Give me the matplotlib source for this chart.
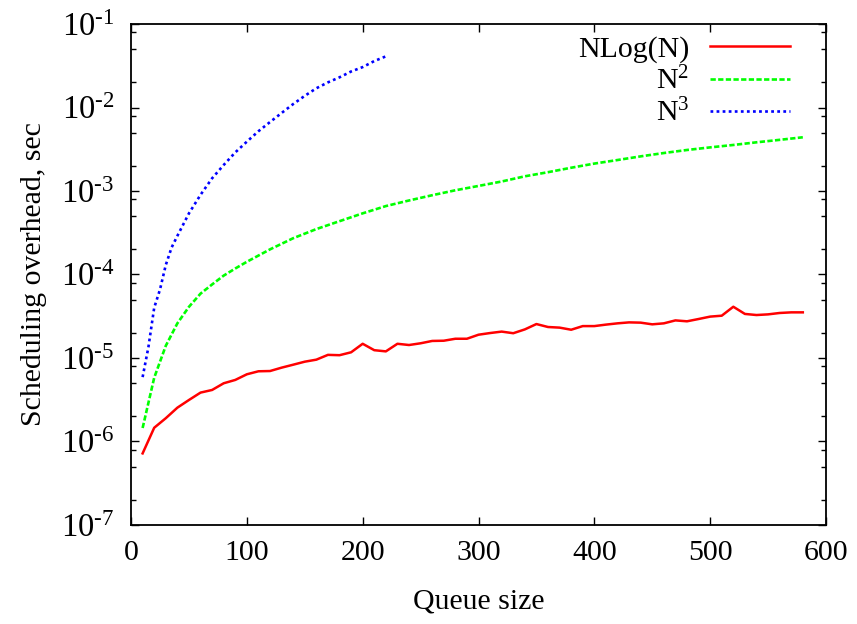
import matplotlib
matplotlib.use("Agg")
import matplotlib.pyplot as plt
from matplotlib.ticker import LogLocator, FixedLocator, FuncFormatter, NullFormatter
import numpy as np

plt.rcParams['font.family'] = ['Liberation Serif', 'DejaVu Serif']
plt.rcParams['mathtext.fontset'] = 'custom'
plt.rcParams['mathtext.rm'] = 'Liberation Serif'
plt.rcParams['mathtext.it'] = 'Liberation Serif:italic'
plt.rcParams['mathtext.bf'] = 'Liberation Serif:bold'

# ---- data ----
nlogn_x = [10, 20, 30, 40, 50, 60, 70, 80, 90, 100, 110, 120, 130, 140, 150, 160, 170, 180, 190,
           200, 210, 220, 230, 240, 250, 260, 270, 280, 290, 300, 310, 320, 330, 340, 350, 360,
           370, 380, 390, 400, 410, 420, 430, 440, 450, 460, 470, 480, 490, 500, 510, 520, 530,
           540, 550, 560, 570, 580]
nlogn_y = [7.2e-7, 1.46e-6, 1.9e-6, 2.54e-6, 3.14e-6, 3.85e-6, 4.14e-6, 4.98e-6, 5.46e-6, 6.38e-6,
           6.93e-6, 6.98e-6, 7.66e-6, 8.31e-6, 9.03e-6, 9.55e-6, 1.09e-5, 1.08e-5, 1.17e-5,
           1.48e-5, 1.24e-5, 1.20e-5, 1.48e-5, 1.43e-5, 1.50e-5, 1.60e-5, 1.61e-5, 1.70e-5,
           1.70e-5, 1.90e-5, 1.99e-5, 2.07e-5, 1.98e-5, 2.20e-5, 2.55e-5, 2.35e-5, 2.31e-5,
           2.18e-5, 2.41e-5, 2.41e-5, 2.51e-5, 2.60e-5, 2.67e-5, 2.65e-5, 2.53e-5, 2.60e-5,
           2.82e-5, 2.75e-5, 2.93e-5, 3.13e-5, 3.21e-5, 4.11e-5, 3.37e-5, 3.27e-5, 3.33e-5,
           3.46e-5, 3.52e-5, 3.52e-5]

n2_x = [10, 20, 30, 40, 50, 60, 70, 80, 90, 100, 120, 140, 160, 180, 200, 220, 240, 260, 280,
        300, 320, 340, 360, 380, 400, 420, 440, 460, 480, 500, 520, 540, 560, 580]
n2_y = [1.45e-6, 5.8e-6, 1.4e-5, 2.6e-5, 4.1e-5, 5.9e-5, 7.6e-5, 9.7e-5, 1.18e-4, 1.42e-4,
        2.0e-4, 2.72e-4, 3.5e-4, 4.35e-4, 5.4e-4, 6.6e-4, 7.7e-4, 8.9e-4, 1.02e-3,
        1.15e-3, 1.3e-3, 1.5e-3, 1.68e-3, 1.9e-3, 2.13e-3, 2.35e-3, 2.6e-3, 2.85e-3,
        3.1e-3, 3.33e-3, 3.56e-3, 3.83e-3, 4.1e-3, 4.4e-3]

n3_x = [10, 15, 20, 25, 30, 35, 40, 50, 60, 70, 80, 90, 100, 110, 120, 130, 140, 150, 160,
        170, 180, 190, 200, 210, 220]
n3_y = [5.9e-6, 1.35e-5, 4.0e-5, 6.6e-5, 1.3e-4, 2.1e-4, 2.9e-4, 5.4e-4, 9.0e-4, 1.42e-3,
        2.05e-3, 2.9e-3, 3.9e-3, 5.2e-3, 6.7e-3, 8.6e-3, 1.1e-2, 1.38e-2, 1.7e-2, 2.0e-2,
        2.3e-2, 2.7e-2, 3.05e-2, 3.6e-2, 4.1e-2]

labels = ['NLog(N)', r'N$^2$', r'N$^3$']
x_ticks = [0, 100, 200, 300, 400, 500, 600]
y_exps = [-7, -6, -5, -4, -3, -2, -1]

FS = 21.5

# ---- figure ----
fig = plt.figure(figsize=(8.57, 6.24), dpi=100)
ax = fig.add_axes([0.1529, 0.1587, 0.8109, 0.8028])

ax.plot(nlogn_x, nlogn_y, color='#ff0000', lw=1.8, ls='-', label=labels[0])
ax.plot(n2_x, n2_y, color='#00ff00', lw=1.9, ls=(0, (2.0, 0.9)), label=labels[1])
ax.plot(n3_x, n3_y, color='#0000ff', lw=1.9, ls=(0, (1.05, 1.25)), label=labels[2])

ax.set_yscale('log')
ax.set_xlim(0, 600)
ax.set_ylim(1e-7, 1e-1)
ax.xaxis.set_major_locator(FixedLocator(x_ticks))
ax.yaxis.set_major_locator(FixedLocator([10.0 ** e for e in y_exps]))
ax.yaxis.set_major_formatter(FuncFormatter(
    lambda v, p: r'$10^{\text{-}%d}$' % abs(int(round(np.log10(v))))))
ax.yaxis.set_minor_locator(LogLocator(base=10, subs=(2, 5, 8), numticks=20))
ax.yaxis.set_minor_formatter(NullFormatter())

ax.tick_params(which='both', direction='in', top=True, right=True, width=1.0, labelsize=FS)
ax.tick_params(axis='y', labelsize=23.5)
ax.tick_params(which='major', length=6)
ax.tick_params(which='minor', length=3.5)
ax.tick_params(axis='x', pad=11)
ax.tick_params(axis='y', pad=12)
for s in ax.spines.values():
    s.set_linewidth(1.3)

ax.set_xlabel('Queue size', fontsize=FS, labelpad=16)
ax.set_ylabel('Scheduling overhead, sec', fontsize=FS, labelpad=10)

leg = ax.legend(loc='upper right', frameon=False, markerfirst=False, fontsize=FS,
                handlelength=2.7, handletextpad=0.68, labelspacing=0.12,
                borderaxespad=0.0, bbox_to_anchor=(0.966, 1.0))
for col in leg._legend_handle_box.get_children():
    col.align = 'right'

fig.savefig('out.png', dpi=100)
